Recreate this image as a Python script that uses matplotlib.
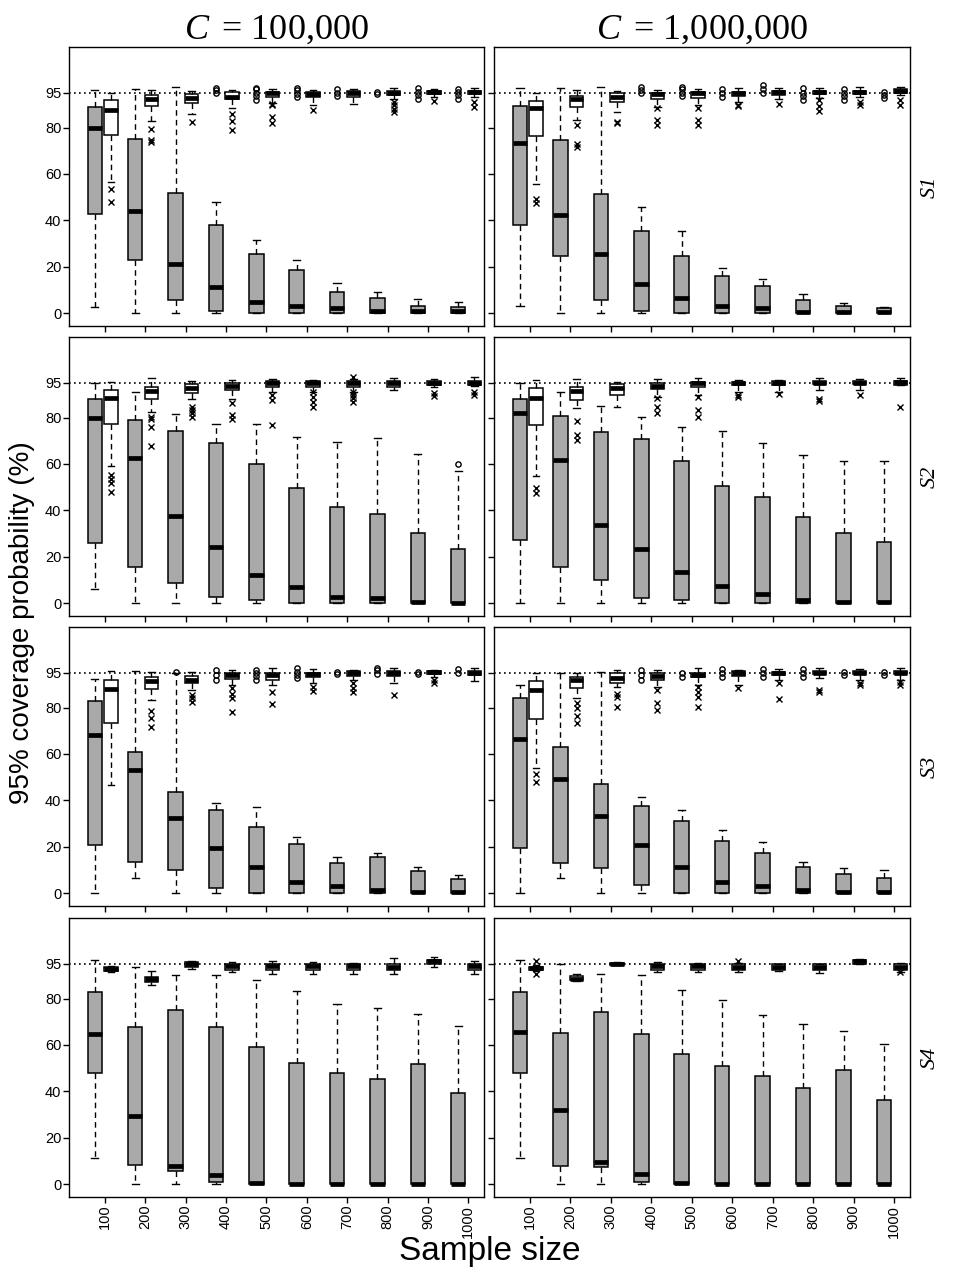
import matplotlib
matplotlib.use('Agg')
import matplotlib.pyplot as plt

plt.rcParams['font.family'] = ['Liberation Sans', 'DejaVu Sans']
plt.rcParams['mathtext.fontset'] = 'custom'
plt.rcParams['mathtext.rm'] = 'Liberation Serif'
plt.rcParams['mathtext.it'] = 'Liberation Serif:italic'

sizes = [100, 200, 300, 400, 500, 600, 700, 800, 900, 1000]
y_ticks = [0, 20, 40, 60, 80, 95]
col_titles = [r'$C\,$ = 100,000', r'$C\,$ = 1,000,000']
row_labels = ['S1', 'S2', 'S3', 'S4']

# each row: (lower whisker, Q1, median, Q3, upper whisker) for one sample size
# grey = first method, white = second method

# ---- S1, C = 100,000
s1_c5_grey = [(2.9, 42.8, 79.9, 88.7, 96.2), (0, 22.8, 43.9, 75.0, 96.6), (0, 5.7, 21.1, 51.7, 97.6),
              (0, 1.1, 11.5, 37.9, 47.8), (0, 0, 5.0, 25.4, 31.6), (0, 0, 3.2, 18.7, 23.0),
              (0, 0, 2.2, 9.3, 13.2), (0, 0, 1.1, 6.5, 9.3), (0, 0, 1.1, 3.3, 6.0), (0, 0, 1.1, 2.9, 5.0)]
s1_c5_grey_out = [[], [], [], [95, 96, 97], [92, 93.5, 95, 96.5, 97], [93, 94.5, 96, 97],
                  [93.5, 95, 96.5], [94.5, 95.5], [92.5, 94, 95.5, 97], [92.5, 94, 95.5, 96.5]]
s1_c5_white = [(56.7, 76.6, 87.4, 91.7, 95.0), (82.8, 89.3, 92.1, 94.0, 96.2), (85.8, 90.4, 92.6, 94.3, 95.9),
               (88.3, 92.3, 93.3, 95.4, 96.2), (90.4, 93.3, 94.7, 95.4, 96.4), (89.7, 93.0, 94.4, 95.4, 96.2),
               (90.1, 93.0, 94.7, 95.7, 96.6), (92.5, 94.0, 95.0, 95.7, 96.9), (93.3, 94.3, 95.1, 95.9, 96.4),
               (93.3, 94.3, 95.1, 95.9, 96.9)]
s1_c5_white_out = [[53.7, 48.0], [79.2, 74.6, 73.6], [82.4], [85.8, 83.0, 78.9], [90.0, 89.5, 84.7, 81.8],
                   [87.5], [], [91.0, 89.5, 88.0, 86.5], [91.4], [91.1, 89.0]]

# ---- S1, C = 1,000,000
s1_c6_grey = [(3.3, 37.9, 73.5, 89.3, 97.2), (0, 24.8, 42.5, 74.6, 97.2), (0, 5.7, 25.4, 51.5, 97.3),
              (0, 1.1, 12.6, 35.6, 45.6), (0, 0, 6.7, 24.7, 35.6), (0, 0, 3.3, 16.2, 19.7),
              (0, 0, 2.4, 11.6, 14.9), (0, 0, 0.7, 5.7, 8.3), (0, 0, 0.7, 3.2, 4.3), (0, 0, 0.7, 2.2, 2.9)]
s1_c6_grey_out = [[], [], [], [94.7, 96, 97.6], [93.6, 95, 96.5, 97.6], [93, 95, 96.6],
                  [94.7, 96.5, 98.3], [92, 93.5, 95, 96.9], [92, 93.5, 95, 96.4], [92.6, 94, 95.4]]
s1_c6_white = [(55.7, 76.3, 88.3, 91.4, 95.0), (83.2, 88.7, 92.1, 93.6, 96.2), (86.8, 91.1, 93.3, 94.7, 95.9),
               (89.0, 92.1, 94.3, 95.0, 96.2), (89.7, 92.6, 94.7, 95.4, 96.4), (91.1, 93.6, 94.7, 95.4, 96.9),
               (92.5, 94.0, 95.1, 95.7, 97.2), (92.9, 94.3, 95.1, 95.7, 96.9), (93.3, 94.3, 95.1, 95.9, 97.6),
               (94.0, 95.0, 95.9, 96.7, 97.6)]
s1_c6_white_out = [[49.0, 47.4], [81.1, 72.9, 71.8], [82.5, 81.8], [88.3, 83.2, 81.1], [88.3, 83.2, 81.1],
                   [89.7, 89.2], [90.1], [91.8, 89.3, 87.3], [91.1, 89.7], [91.8, 89.7]]

# ---- S2, C = 100,000
s2_c5_grey = [(6.2, 26.1, 79.9, 87.8, 95.0), (0, 15.4, 62.4, 78.9, 90.8), (0, 8.6, 37.6, 74.2, 81.5),
              (0, 2.9, 24.1, 68.9, 77.1), (0, 1.4, 12.2, 59.8, 77.1), (0, 0.3, 7.2, 49.5, 71.8),
              (0, 0, 2.9, 41.6, 69.6), (0, 0, 2.4, 38.5, 71.0), (0, 0, 0.7, 30.1, 64.3), (0, 0, 0.3, 23.2, 57.0)]
s2_c5_grey_out = [[], [], [], [], [], [], [], [], [], [60.0]]
s2_c5_white = [(59.1, 77.1, 88.5, 91.7, 95.4), (82.5, 87.8, 91.6, 93.0, 96.9), (88.0, 90.7, 92.6, 94.3, 95.9),
               (87.8, 91.8, 93.6, 95.0, 96.2), (91.1, 93.3, 95.0, 95.9, 96.4), (91.1, 93.0, 94.7, 95.9, 96.2),
               (91.0, 93.0, 94.7, 95.7, 96.4), (92.0, 93.3, 95.0, 95.7, 97.0), (93.3, 94.0, 95.0, 95.7, 96.7),
               (93.6, 94.0, 95.0, 95.9, 97.5)]
s2_c5_white_out = [[55.3, 53.4, 51.7, 48.0], [80.1, 79.5, 76.1, 67.7], [84.7, 83.2, 81.8, 80.4],
                   [86.4, 81.1, 79.2], [89.7, 87.5, 76.8], [91.1, 89.0, 86.8, 84.7],
                   [97.6, 91.0, 89.7, 88.3, 86.8], [], [90.4, 89.3], [91.1, 89.7]]

# ---- S2, C = 1,000,000
s2_c6_grey = [(0, 27.3, 81.8, 88.0, 95.0), (0, 15.4, 61.7, 80.8, 90.8), (0, 9.8, 33.7, 73.9, 85.0),
              (0, 2.4, 23.4, 70.6, 80.1), (0, 1.4, 13.3, 61.3, 76.1), (0, 0.3, 7.5, 50.7, 74.3),
              (0, 0, 3.9, 45.9, 68.9), (0, 0, 1.4, 37.3, 63.9), (0, 0, 0.7, 30.4, 61.4), (0, 0, 0.7, 26.3, 61.4)]
s2_c6_grey_out = [[], [], [], [], [], [], [], [], [], []]
s2_c6_white = [(55.0, 76.8, 88.3, 92.6, 96.2), (84.0, 87.5, 91.6, 93.0, 96.6), (84.7, 89.7, 92.6, 94.3, 95.4),
               (89.0, 92.1, 93.6, 94.7, 96.6), (89.7, 93.0, 94.7, 95.4, 96.9), (91.1, 94.0, 94.7, 95.4, 96.2),
               (91.1, 94.0, 94.7, 95.7, 96.2), (92.0, 94.3, 95.0, 95.7, 96.9), (92.0, 94.3, 95.0, 95.7, 96.4),
               (94.0, 94.0, 95.4, 95.9, 96.9)]
s2_c6_white_out = [[49.5, 47.4], [78.6, 72.5, 70.3], [], [88.3, 84.7, 81.8], [89.0, 83.2, 80.1],
                   [89.7, 89.0], [90.1], [88.0, 87.3], [89.7], [84.7]]

# ---- S3, C = 100,000
s3_c5_grey = [(0, 20.8, 68.0, 82.8, 92.1), (6.5, 13.6, 53.1, 61.0, 95.7), (0, 10.0, 32.3, 43.8, 94.7),
              (0, 2.4, 19.4, 35.9, 39.0), (0, 0.3, 11.2, 28.7, 37.3), (0, 0, 5.0, 21.1, 24.4),
              (0, 0, 3.2, 12.9, 15.4), (0, 0, 1.4, 15.8, 17.2), (0, 0, 0.7, 9.6, 11.2), (0, 0, 0.7, 6.0, 7.9)]
s3_c5_grey_out = [[], [], [95.4], [92, 94, 96], [92, 93.5, 95, 96.2], [92.6, 94, 95.5, 97],
                  [94.5, 95.5], [94.5, 96, 97], [94.5, 95.5], [95, 96.5]]
s3_c5_white = [(46.6, 73.2, 87.8, 91.8, 95.7), (83.2, 87.8, 91.4, 93.3, 95.1), (87.5, 90.4, 91.8, 93.6, 95.4),
               (89.7, 92.1, 94.0, 95.0, 96.2), (89.7, 91.8, 94.0, 95.0, 96.9), (90.4, 93.0, 94.4, 95.0, 96.6),
               (91.8, 93.6, 94.7, 95.7, 96.2), (90.7, 93.6, 95.0, 95.7, 96.9), (93.3, 94.4, 95.1, 95.9, 96.2),
               (91.6, 94.0, 95.0, 95.9, 96.9)]
s3_c5_white_out = [[], [78.6, 75.3, 71.8], [85.4, 84.0, 82.5], [88.3, 85.8, 84.0, 78.2], [86.8, 81.5],
                   [89.0, 87.3], [90.4, 88.3, 86.8], [85.4], [91.8, 90.4], []]

# ---- S3, C = 1,000,000
s3_c6_grey = [(0, 19.4, 66.3, 84.0, 89.7), (6.5, 12.9, 49.2, 63.1, 95.0), (0, 10.8, 33.4, 47.1, 95.4),
              (0, 3.6, 20.8, 37.6, 41.6), (0, 0.3, 11.2, 31.1, 35.9), (0, 0.3, 5.0, 22.5, 27.3),
              (0, 0, 3.3, 17.2, 22.2), (0, 0, 1.4, 11.2, 13.3), (0, 0, 0.7, 8.3, 10.8), (0, 0, 0.7, 6.7, 9.8)]
s3_c6_grey_out = [[], [], [], [92, 94, 96], [93, 95], [93, 95, 96.5], [93, 95, 96.5],
                  [93, 95, 96.5], [94, 95.5], [94, 95.5]]
s3_c6_white = [(53.8, 75.0, 87.5, 91.4, 95.0), (84.0, 88.3, 91.8, 93.0, 95.0), (89.0, 90.7, 92.6, 94.7, 96.2),
               (89.0, 91.8, 93.6, 95.0, 96.2), (89.7, 93.0, 94.0, 95.0, 96.9), (89.7, 93.6, 94.7, 95.7, 96.2),
               (91.8, 94.0, 94.7, 95.4, 96.4), (92.5, 94.3, 95.0, 95.7, 96.9), (91.8, 94.3, 95.0, 95.7, 96.4),
               (91.8, 94.3, 95.0, 95.7, 96.9)]
s3_c6_white_out = [[51.4, 48.1], [81.8, 79.6, 76.5, 73.2], [85.8, 84.4, 80.1], [87.5, 82.1, 78.9],
                   [89.0, 86.8, 84.7, 80.1], [88.3], [90.4, 83.7], [87.5, 86.8], [90.4, 89.7], [91.0, 89.7]]

# ---- S4, C = 100,000
s4_c5_grey = [(11.5, 47.7, 64.9, 82.8, 96.4), (0, 8.3, 29.5, 67.8, 93.6), (0, 5.7, 7.9, 75.2, 90.3),
              (0, 1.1, 4.0, 67.8, 90.3), (0, 0.3, 0.7, 59.2, 88.1), (0, 0, 0, 52.3, 83.1),
              (0, 0, 0, 47.7, 77.5), (0, 0, 0, 45.3, 76.1), (0, 0, 0, 51.6, 73.5), (0, 0, 0, 39.1, 68.1)]
s4_c5_grey_out = [[], [], [], [], [], [], [], [], [], []]
s4_c5_white = [(91.3, 91.8, 92.9, 93.6, 93.9), (86.0, 87.1, 88.3, 89.3, 91.8), (92.6, 93.6, 95.0, 95.7, 96.0),
               (91.4, 92.4, 93.9, 95.0, 95.7), (90.7, 92.1, 93.9, 95.0, 96.0), (90.7, 92.1, 93.9, 95.0, 95.7),
               (90.7, 92.1, 93.9, 95.0, 95.4), (90.7, 92.1, 93.6, 95.0, 97.4), (93.6, 95.0, 96.0, 96.7, 97.9),
               (90.4, 92.1, 93.9, 95.0, 96.1)]
s4_c5_white_out = [[], [], [], [], [], [], [], [], [], []]

# ---- S4, C = 1,000,000
s4_c6_grey = [(11.2, 48.0, 65.6, 82.8, 96.4), (0, 8.0, 31.9, 65.3, 95.0), (0, 7.6, 9.7, 74.2, 90.7),
              (0, 1.1, 4.4, 64.5, 90.0), (0, 0.3, 0.7, 55.9, 83.5), (0, 0, 0, 51.0, 79.2),
              (0, 0, 0, 46.7, 72.8), (0, 0, 0, 41.6, 69.2), (0, 0, 0, 49.4, 65.9), (0, 0, 0, 36.3, 60.2)]
s4_c6_grey_out = [[], [], [], [], [], [], [], [], [], []]
s4_c6_white = [(91.8, 92.4, 93.0, 93.6, 94.3), (87.5, 87.9, 88.6, 89.6, 90.7), (94.3, 94.3, 94.7, 95.4, 95.7),
               (91.4, 92.4, 93.9, 95.0, 95.7), (91.4, 92.4, 93.9, 94.7, 95.2), (91.4, 92.1, 93.6, 94.7, 95.2),
               (91.8, 92.1, 93.6, 94.7, 94.7), (91.0, 92.4, 93.6, 94.7, 95.0), (94.7, 95.0, 96.1, 96.7, 97.1),
               (91.4, 92.4, 93.6, 94.7, 95.2)]
s4_c6_white_out = [[96.0, 90.7], [], [], [], [], [96.0], [], [], [], [91.4]]

panels = [
    [(s1_c5_grey, s1_c5_grey_out, s1_c5_white, s1_c5_white_out),
     (s1_c6_grey, s1_c6_grey_out, s1_c6_white, s1_c6_white_out)],
    [(s2_c5_grey, s2_c5_grey_out, s2_c5_white, s2_c5_white_out),
     (s2_c6_grey, s2_c6_grey_out, s2_c6_white, s2_c6_white_out)],
    [(s3_c5_grey, s3_c5_grey_out, s3_c5_white, s3_c5_white_out),
     (s3_c6_grey, s3_c6_grey_out, s3_c6_white, s3_c6_white_out)],
    [(s4_c5_grey, s4_c5_grey_out, s4_c5_white, s4_c5_white_out),
     (s4_c6_grey, s4_c6_grey_out, s4_c6_white, s4_c6_white_out)],
]


def make_stats(rows, outs):
    return [dict(whislo=r[0], q1=r[1], med=r[2], q3=r[3], whishi=r[4], fliers=o)
            for r, o in zip(rows, outs)]


def draw_boxes(ax, stats, pos, width, face, marker):
    ax.bxp(stats, positions=pos, widths=width, patch_artist=True, manage_ticks=False,
           boxprops=dict(facecolor=face, edgecolor='black', linewidth=1.1),
           medianprops=dict(color='black', linewidth=3.4, solid_capstyle='butt'),
           whiskerprops=dict(color='black', linewidth=1.0, linestyle=(0, (4, 3))),
           capprops=dict(color='black', linewidth=1.0),
           flierprops=dict(marker=marker, markersize=3.8, markerfacecolor='none',
                           markeredgecolor='black', markeredgewidth=1.0, linestyle='none'))


fig = plt.figure(figsize=(9.56, 12.73), dpi=100)

lefts = [0.0722, 0.5167]
widths = [0.4341, 0.4351]
bottoms = [0.7439, 0.5161, 0.2883, 0.0597]
height = 0.2192

pos_grey = [i + 1 for i in range(len(sizes))]
pos_white = [p + 0.4 for p in pos_grey]
pos_tick = [p + 0.25 for p in pos_grey]

for r in range(4):
    for c in range(2):
        ax = fig.add_axes([lefts[c], bottoms[r], widths[c], height])
        grey, grey_out, white, white_out = panels[r][c]
        ax.axhline(95, color='black', linestyle=(0, (1, 2)), linewidth=1.2, zorder=1)
        draw_boxes(ax, make_stats(grey, grey_out), pos_grey, 0.36, '#a9a9a9', 'o')
        draw_boxes(ax, make_stats(white, white_out), pos_white, 0.33, 'white', 'x')

        ax.set_xlim(0.36, 10.64)
        ax.set_ylim(-5.5, 114.7)
        ax.set_yticks(y_ticks)
        ax.set_xticks(pos_tick)
        ax.tick_params(direction='out', length=4, width=1, pad=1.5, labelsize=10.5)
        for sp in ax.spines.values():
            sp.set_linewidth(1.0)
        if c == 0:
            ax.set_yticklabels([str(t) for t in y_ticks])
        else:
            ax.set_yticklabels([])
        if r == 3:
            ax.set_xticklabels([str(s) for s in sizes], rotation=90)
        else:
            ax.set_xticklabels([])

        if r == 0:
            ax.set_title(col_titles[c], fontsize=26, family='Liberation Serif', pad=5)
        ax.text(1.048, 0.5, row_labels[r], transform=ax.transAxes, rotation=90,
                ha='center', va='center', fontsize=16, family='Liberation Serif',
                fontstyle='italic')

fig.text(0.023, 0.511, '95% coverage probability (%)', rotation=90, ha='center', va='center',
         fontsize=20)
fig.text(0.512, 0.0165, 'Sample size', ha='center', va='center', fontsize=24)

fig.savefig('out.png', dpi=100)
